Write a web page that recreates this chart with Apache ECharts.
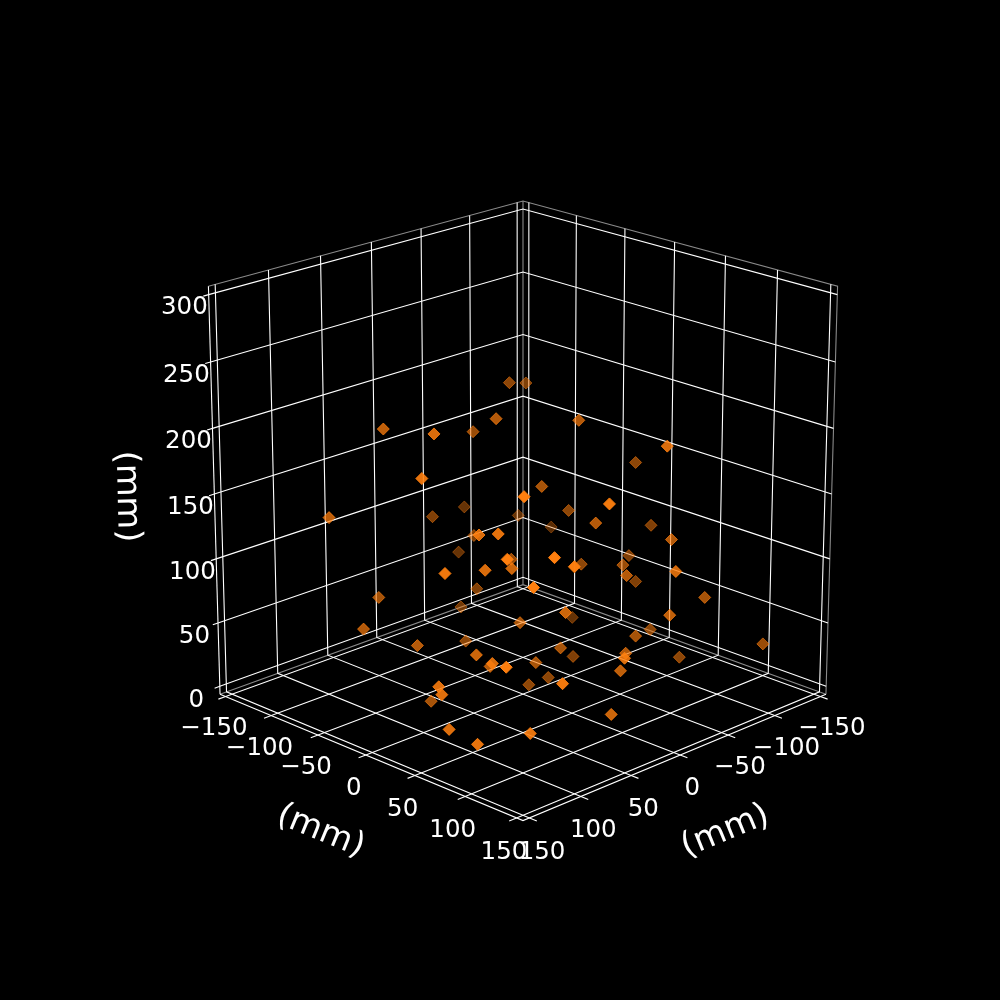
<!DOCTYPE html><html><head><meta charset="utf-8"><style>html,body{margin:0;background:#000}#c{width:1000px;height:1000px}</style>
<script src="https://cdn.jsdelivr.net/npm/echarts@6/dist/echarts.min.js"></script></head><body><div id="c"></div><script>
const pointX=[91,99,-2,17,-45,-70,128,-11,114,-48,2,-75,-107,133,-16,94,100,-37,109,132,1,67,97,146,
-8,124,91,-13,-24,-13,-96,58,-53,-15,-110,-50,-93,97,-50,-55,-21,-92,-4,-74,-20,48,-85,-74,
-32,24,-113,8,-7,48,-46,-84,23,14,-13,109,0,120,96,23,99,109,63,146,146,146,83,146,
147,118,43];
const pointY=[-48,12,-53,-10,-59,-67,30,8,115,-110,-92,-80,-77,-60,-67,51,76,-105,139,117,-11,56,60,71,
-56,134,-55,-78,32,128,20,141,-6,58,23,99,17,146,10,47,83,25,146,110,126,90,-33,57,
82,21,132,46,96,147,6,77,36,111,13,147,6,-40,-10,-36,53,79,30,130,64,67,-10,74,
103,125,130];
const pointZ=[210,223,184,209,210,202,202,155,207,99,109,93,76,151,96,157,166,67,168,167,97,126,134,148,
59,149,80,37,208,215,155,194,122,139,103,128,82,160,85,93,104,64,129,80,86,97,21,40,
54,63,39,46,52,79,12,21,36,49,7,78,3,68,57,32,69,73,43,96,62,57,10,33,
31,37,30];
const horizTicks=[-150,-100,-50,0,50,100,150];
const zTicks=[0,50,100,150,200,250,300];
const axisTitle='(mm)';
const fmt=v=>String(v).replace('-','\u2212');

const EL=20*Math.PI/180,AZ=Math.PI/4,DIST=9.09,SX=436.5,SY=434,CX=523,CY=494;
const E=156.25,ZLO=-6.25,ZHI=306.25,SPAN=312.5;
const s=Math.sin(EL),c=Math.cos(EL),ca=Math.cos(AZ),sa=Math.sin(AZ);
const R=[-sa,ca,0],U=[-s*ca,-s*sa,c],V=[c*ca,c*sa,s];
const dot=(a,b)=>a[0]*b[0]+a[1]*b[1]+a[2]*b[2];
const norm=(x,y,z)=>[x/SPAN,y/SPAN,(z-150)/SPAN];
const depth=(x,y,z)=>dot(norm(x,y,z),V);
function project(x,y,z){const p=norm(x,y,z);const f=1/(1-dot(p,V)/DIST);return [CX+SX*f*dot(p,R),CY-SY*f*dot(p,U)];}
const path=pts=>({coords:pts.map(p=>project(p[0],p[1],p[2]))});

const T=7;
const gridPaths=[
 ...horizTicks.map(v=>path([[v,E+T,ZLO],[v,E,ZLO],[v,-E,ZLO],[v,-E,ZHI]])),
 ...horizTicks.map(v=>path([[E+T,v,ZLO],[E,v,ZLO],[-E,v,ZLO],[-E,v,ZHI]])),
 ...zTicks.map(v=>path([[E+5,-E,v],[E,-E,v],[-E,-E,v],[-E,E,v]]))
];
const axisPaths=[path([[E,-E,ZLO],[E,E,ZLO],[-E,E,ZLO]]),path([[E,-E,ZLO],[E,-E,ZHI]])];
const panePaths=[path([[E,-E,ZHI],[-E,-E,ZHI],[-E,E,ZHI],[-E,E,ZLO]]),path([[E,-E,ZLO],[-E,-E,ZLO],[-E,E,ZLO]]),path([[-E,-E,ZLO],[-E,-E,ZHI]])];

const DMIN=-.55,DMAX=.55;
const points=pointX.map((x,i)=>({x,y:pointY[i],z:pointZ[i],d:depth(x,pointY[i],pointZ[i])})).sort((a,b)=>a.d-b.d)
 .map(p=>({value:project(p.x,p.y,p.z),itemStyle:{opacity:Math.min(1,Math.max(.3,.3+.7*(p.d-DMIN)/(DMAX-DMIN)))}}));

const texts=[];
const addText=(pos,text,size,rot)=>texts.push({pos,text,size,rot});
horizTicks.forEach(v=>{
 addText(project(E+12,v,ZLO-22),fmt(v),24.5,0);
 addText(project(v,E+12,ZLO-22),fmt(v),24.5,0);
});
zTicks.forEach(v=>addText(project(E,-E-27,1.013*v-19.5),fmt(v),24.5,0));
addText(project(E+44,0,ZLO-45),axisTitle,33.6,-22.3);
addText(project(0,E+44,ZLO-45),axisTitle,33.6,22.3);
addText(project(E+44.5,-E-44.5,148),axisTitle,33.6,-88.5);

const chart=echarts.init(document.getElementById('c'));
const lineSeries=(data,color,width,z)=>({type:'lines',coordinateSystem:'cartesian2d',polyline:true,silent:true,z,data,lineStyle:{color,width,opacity:1}});
chart.setOption({animation:false,backgroundColor:'#000',
 grid:{left:0,right:0,top:0,bottom:0},
 xAxis:{type:'value',min:0,max:1000,show:false},
 yAxis:{type:'value',min:0,max:1000,inverse:true,show:false},
 series:[
  lineSeries(panePaths,'#8a8a8a',1.1,1),
  lineSeries(gridPaths,'#ffffff',1.1,2),
  lineSeries(axisPaths,'#ffffff',1.1,3),
  {type:'scatter',z:4,silent:true,symbol:'diamond',symbolSize:12,data:points,itemStyle:{color:'#ff7f0e',borderColor:'#ff7f0e',borderWidth:1}},
  {type:'custom',z:5,silent:true,coordinateSystem:'cartesian2d',clip:false,
   data:texts.map(t=>t.pos),
   renderItem:(params,api)=>{const t=texts[params.dataIndex];const pt=api.coord([api.value(0),api.value(1)]);
    return {type:'text',x:pt[0],y:pt[1],rotation:t.rot*Math.PI/180,style:{text:t.text,fill:'#fff',font:t.size+'px "DejaVu Sans"',align:'center',verticalAlign:'middle'}};}}
 ]});
</script></body></html>
